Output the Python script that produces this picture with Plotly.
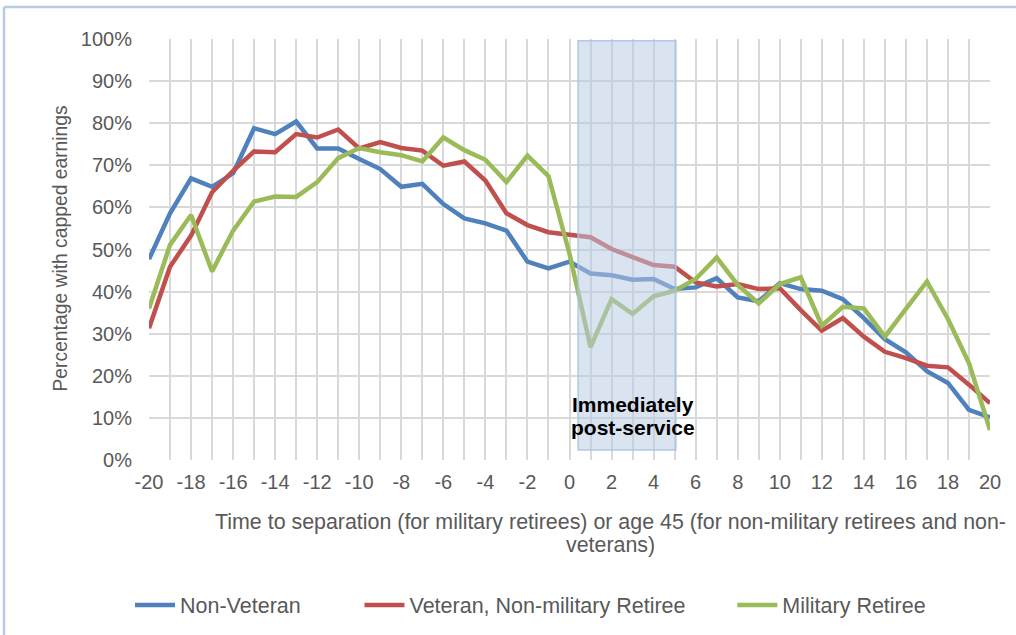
import plotly.graph_objects as go

x_vals = [-20, -19, -18, -17, -16, -15, -14, -13, -12, -11,
          -10, -9, -8, -7, -6, -5, -4, -3, -2, -1,
          0, 1, 2, 3, 4, 5, 6, 7, 8, 9,
          10, 11, 12, 13, 14, 15, 16, 17, 18, 19, 20]

non_veteran = [47.7, 58.6, 66.9, 64.9, 68.1, 78.8, 77.4, 80.4, 74.0, 74.0,
               71.5, 69.1, 64.9, 65.6, 60.8, 57.4, 56.2, 54.5, 47.1, 45.5,
               47.1, 44.3, 43.9, 42.8, 43.0, 40.6, 41.0, 43.2, 38.6, 37.7,
               42.0, 40.6, 40.2, 38.2, 33.7, 28.7, 25.6, 21.1, 18.3, 11.9, 10.1]

veteran_non_mil = [31.3, 45.9, 53.3, 63.6, 68.7, 73.3, 73.1, 77.4, 76.6, 78.5,
                   74.0, 75.5, 74.1, 73.5, 69.9, 70.9, 66.4, 58.6, 55.8, 54.1,
                   53.5, 52.9, 50.1, 48.3, 46.3, 45.9, 42.2, 41.2, 41.8, 40.6,
                   40.8, 35.6, 30.7, 33.7, 29.3, 25.7, 24.2, 22.4, 22.0, 17.9, 13.5]

military_retiree = [36.0, 51.1, 58.2, 44.8, 54.5, 61.4, 62.6, 62.5, 66.0, 71.7,
                    74.1, 73.1, 72.4, 70.9, 76.6, 73.6, 71.3, 66.0, 72.3, 67.4,
                    49.0, 26.8, 38.2, 34.7, 38.9, 40.2, 43.0, 48.1, 41.6, 37.2,
                    41.8, 43.4, 31.9, 36.4, 36.0, 29.3, 35.9, 42.4, 33.5, 23.0, 7.1]

series_names = ["Non-Veteran", "Veteran, Non-military Retiree", "Military Retiree"]
series_colors = ["#4f81bd", "#c0504d", "#9bbb59"]

x_tick_vals = [-20, -18, -16, -14, -12, -10, -8, -6, -4, -2, 0, 2, 4, 6, 8, 10, 12, 14, 16, 18, 20]
x_tick_text = ["-20", "-18", "-16", "-14", "-12", "-10", "-8", "-6", "-4", "-2", "0",
               "2", "4", "6", "8", "10", "12", "14", "16", "18", "20"]
y_tick_vals = [0, 10, 20, 30, 40, 50, 60, 70, 80, 90, 100]
y_tick_text = ["0%", "10%", "20%", "30%", "40%", "50%", "60%", "70%", "80%", "90%", "100%"]

x_title_1 = "Time to separation (for military retirees) or age 45 (for non-military retirees and non-"
x_title_2 = "veterans)"
y_title = "Percentage with capped earnings"
box_label_1 = "Immediately"
box_label_2 = "post-service"

FONT = "Liberation Sans, Arial, sans-serif"
TXT = "#595959"
GRID = "#d9d9d9"

# pixel geometry of the plot area
L, R, T, B = 149, 990, 39, 460
PW, PH = R - L, B - T


def px_x(p):
    return (p - L) / PW


def px_y(p):
    return (B - p) / PH


NB = "\u00a0"
pads = [NB * 9, NB * 7, ""]

fig = go.Figure()
for name, vals, col, pad in zip(series_names, [non_veteran, veteran_non_mil, military_retiree],
                                series_colors, pads):
    fig.add_trace(go.Scatter(x=x_vals, y=vals, mode="lines", name=name + pad,
                             line=dict(color=col, width=4.5)))

fig.add_shape(type="rect", xref="x", yref="y", x0=0.41, x1=5.06, y0=2.4, y1=99.6,
              fillcolor="rgba(184,201,226,0.52)", line=dict(color="rgba(170,195,225,0.9)", width=1.5),
              layer="above")

fig.add_annotation(x=3.0, y=13.3, xref="x", yref="y", text="<b>" + box_label_1 + "</b>",
                   showarrow=False, font=dict(family=FONT, size=21, color="#000000"))
fig.add_annotation(x=3.0, y=7.8, xref="x", yref="y", text="<b>" + box_label_2 + "</b>",
                   showarrow=False, font=dict(family=FONT, size=21, color="#000000"))

fig.add_annotation(x=px_x(610), y=px_y(522), xref="paper", yref="paper", text=x_title_1,
                   showarrow=False, font=dict(family=FONT, size=21.4, color=TXT),
                   xanchor="center", yanchor="middle")
fig.add_annotation(x=px_x(610), y=px_y(545), xref="paper", yref="paper", text=x_title_2,
                   showarrow=False, font=dict(family=FONT, size=21.4, color=TXT),
                   xanchor="center", yanchor="middle")
fig.add_annotation(x=px_x(60), y=px_y(248.5), xref="paper", yref="paper", text=y_title,
                   textangle=-90, showarrow=False, font=dict(family=FONT, size=19.3, color=TXT),
                   xanchor="center", yanchor="middle")

# outer frame (top and left edges visible)
fx = px_x(4)
fy = px_y(7)
fig.add_shape(type="line", xref="paper", yref="paper", x0=fx, x1=1.2, y0=fy, y1=fy,
              line=dict(color="#b7cbe6", width=2.5))
fig.add_shape(type="line", xref="paper", yref="paper", x0=fx, x1=fx, y0=fy, y1=-0.5,
              line=dict(color="#b7cbe6", width=2.5))

fig.update_layout(
    width=1016, height=635,
    margin=dict(l=L, r=1016 - R, t=T, b=635 - B, autoexpand=False),
    plot_bgcolor="white", paper_bgcolor="white",
    font=dict(family=FONT, size=20, color=TXT),
    showlegend=True,
    legend=dict(orientation="h", x=px_x(130), xanchor="left", y=px_y(605),
                yanchor="middle", font=dict(family=FONT, size=21.5, color=TXT), itemwidth=40,
                bgcolor="rgba(0,0,0,0)"),
    xaxis=dict(range=[-20, 20], tickvals=x_tick_vals, ticktext=x_tick_text, showgrid=True,
               gridcolor=GRID, gridwidth=1.5,
               minor=dict(dtick=1, showgrid=True, gridcolor=GRID, gridwidth=1.5),
               zeroline=False, showline=False, ticks="", ticklabelstandoff=8, automargin=False,
               tickfont=dict(family=FONT, size=20, color=TXT)),
    yaxis=dict(range=[0, 100], tickvals=y_tick_vals, ticktext=y_tick_text, showgrid=True,
               gridcolor=GRID, gridwidth=1.5, zeroline=False, showline=False, ticks="",
               ticklabelstandoff=16, automargin=False,
               tickfont=dict(family=FONT, size=20, color=TXT)),
)

fig.write_html("out.html", config={"displayModeBar": False},
               post_script="document.body.style.margin='0';document.body.style.padding='0';")
